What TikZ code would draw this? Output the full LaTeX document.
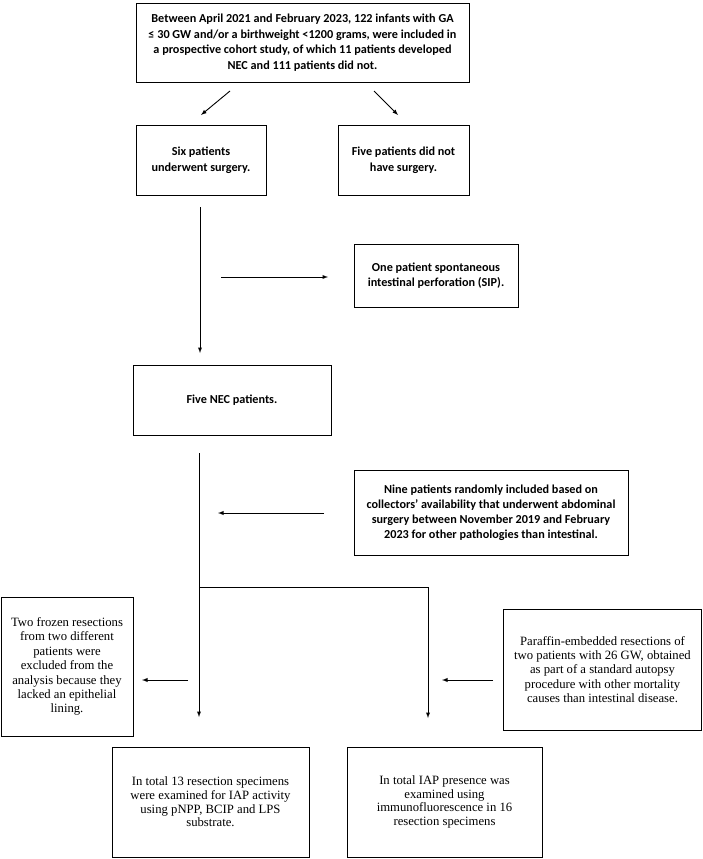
\documentclass[tikz,border=0pt]{standalone}
\usepackage{fontspec}
\setmainfont{Liberation Serif}
\newfontfamily\calibri{Carlito}
\begin{document}
\begin{tikzpicture}[>=latex, x=1pt, y=-1pt, line width=.9pt,
    cbox/.style={draw, align=center, inner sep=0pt, font=\calibri\bfseries\fontsize{12.2}{15.5}\selectfont},
    tbox/.style={draw, align=center, inner sep=0pt, font=\fontsize{12.7}{14.4}\selectfont}]
\useasboundingbox (0,0) rectangle (702,859);

\node[cbox, minimum width=333pt, minimum height=79pt] (top) at (302.5,42.5)
    {Between April 2021 and February 2023, 122 infants with GA\\
     ≤ 30 GW and/or a birthweight <1200 grams, were included in\\
     a prospective cohort study, of which 11 patients developed\\
     NEC and 111 patients did not.};
\node[cbox, minimum width=130pt, minimum height=70pt] (six) at (201,160)
    {Six patients\\underwent surgery.};
\node[cbox, minimum width=131pt, minimum height=70pt] (fivenot) at (403.5,160)
    {Five patients did not\\have surgery.};
\node[cbox, minimum width=164pt, minimum height=63pt] (sip) at (436,275.5)
    {One patient spontaneous\\intestinal perforation (SIP).};
\node[cbox, minimum width=198pt, minimum height=70pt] (nec) at (232,400)
    {Five NEC patients.};
\node[cbox, font=\calibri\bfseries\fontsize{12.2}{15}\selectfont,
      minimum width=274pt, minimum height=85pt] (nine) at (491,512.5)
    {Nine patients randomly included based on\\
     collectors’ availability that underwent abdominal\\
     surgery between November 2019 and February\\
     2023 for other pathologies than intestinal.};
\node[tbox, minimum width=132pt, minimum height=139pt] (frozen) at (67,666.5)
    {Two frozen resections\\from two different\\patients were\\excluded from the\\
     analysis because they\\lacked an epithelial\\lining.};
\node[tbox, minimum width=198pt, minimum height=121pt] (paraffin) at (602.5,669.5)
    {Paraffin-embedded resections of\\two patients with 26 GW, obtained\\
     as part of a standard autopsy\\procedure with other mortality\\
     causes than intestinal disease.};
\node[tbox, font=\fontsize{12.7}{13.6}\selectfont,
      minimum width=197pt, minimum height=110pt] (tot13) at (210.5,802)
    {In total 13 resection specimens\\were examined for IAP activity\\
     using pNPP, BCIP and LPS\\substrate.};
\node[tbox, font=\fontsize{12.7}{13.6}\selectfont,
      minimum width=195pt, minimum height=110pt] (tot16) at (444.5,802)
    {In total IAP presence was\\examined using\\
     immunofluorescence in 16\\resection specimens};

% free arrow ends
\coordinate (l1) at (230,91);  \coordinate (l2) at (201,115);
\coordinate (r1) at (374,91);  \coordinate (r2) at (398,115);
\coordinate (v1) at (200,207); \coordinate (v2) at (200,353);
\coordinate (h1) at (221,277); \coordinate (h2) at (328,277);
\coordinate (m1) at (199,453); \coordinate (m2) at (199,717);
\coordinate (n1) at (324,513); \coordinate (n2) at (218,513);
\coordinate (j) at (199,587);  \coordinate (k) at (428,587);
\coordinate (k2) at (428,718);
\coordinate (f1) at (188,680); \coordinate (f2) at (142,680);
\coordinate (p1) at (493,680); \coordinate (p2) at (442,680);

\draw[->] (l1)--(l2);
\draw[->] (r1)--(r2);
\draw[->] (v1)--(v2);
\draw[->] (h1)--(h2);
\draw[->] (m1)--(m2);
\draw[->] (n1)--(n2);
\draw[->] (j)--(k)--(k2);
\draw[->] (f1)--(f2);
\draw[->] (p1)--(p2);
\end{tikzpicture}
\end{document}
